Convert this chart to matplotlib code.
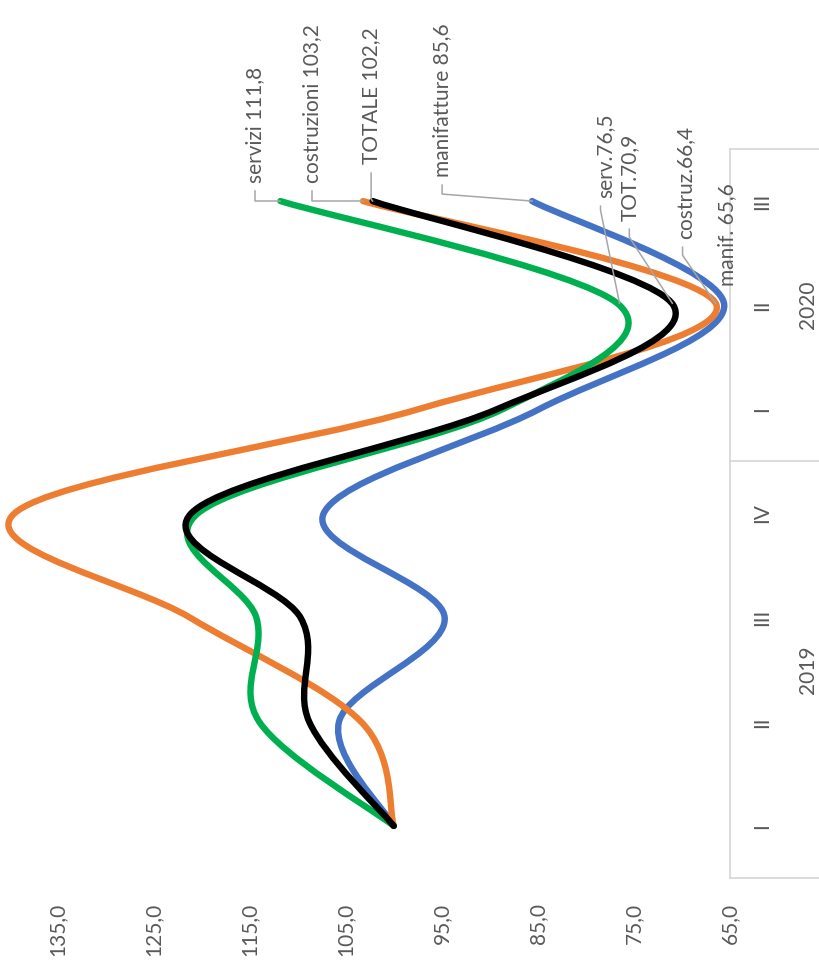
import matplotlib.pyplot as plt
import matplotlib.transforms as mtransforms
from matplotlib.path import Path
from matplotlib.patches import PathPatch
import numpy as np

plt.rcParams['font.family'] = ['Lato', 'DejaVu Sans']

# dati (indice I trim. 2019 = 100)
categories = ["I", "II", "III", "IV", "I", "II", "III"]
years = ["2019", "2020"]
year_centers = [1.5, 5.0]
manifatture = [100.0, 105.7, 94.7, 107.3, 84.9, 65.6, 85.6]
costruzioni = [100.0, 103.4, 121.2, 139.5, 97.5, 66.4, 103.2]
servizi = [100.0, 114.0, 114.3, 120.4, 88.7, 76.5, 111.8]
totale = [100.0, 108.8, 109.7, 121.1, 89.3, 70.9, 102.2]
value_ticks = [135, 125, 115, 105, 95, 85, 75, 65]

end_labels = ["manifatture 85,6", "costruzioni 103,2", "servizi 111,8", "TOTALE 102,2"]
low_labels = ["manif. 65,6", "costruz.66,4", "serv.76,5", "TOT.70,9"]

GREY = "#595959"
LEAD = "#a6a6a6"
FS = 15


def smooth_path(xs, ys):
    # curva di Bezier tipo "linea smussata" di Excel
    pts = np.column_stack([xs, ys])
    n = len(pts)
    verts = [pts[0]]
    codes = [Path.MOVETO]
    for i in range(n - 1):
        p0 = pts[i - 1] if i > 0 else pts[i]
        p1 = pts[i]
        p2 = pts[i + 1]
        p3 = pts[i + 2] if i + 2 < n else pts[i + 1]
        verts += [p1 + (p2 - p0) / 6, p2 - (p3 - p1) / 6, p2]
        codes += [Path.CURVE4] * 3
    return Path(verts, codes)


fig = plt.figure(figsize=(8.19, 9.72), dpi=100)
ax = fig.add_axes([57.5 / 819, 94 / 972, 672.5 / 819, 729 / 972])
ax.set_xlim(135, 65)
ax.set_ylim(-0.5, 6.5)

pos = np.arange(len(categories))
series = [(manifatture, "#4472C4"), (costruzioni, "#ED7D31"),
          (servizi, "#00B050"), (totale, "#000000")]
for z, (vals, col) in enumerate(series):
    patch = PathPatch(smooth_path(vals, pos), fill=False, edgecolor=col,
                      lw=4.6, capstyle="round", joinstyle="round",
                      clip_on=False, zorder=3 + z)
    ax.add_patch(patch)

# assi
for s in ["left", "top", "bottom"]:
    ax.spines[s].set_visible(False)
ax.spines["right"].set_color("#d9d9d9")
ax.spines["right"].set_linewidth(1.3)
ax.set_yticks([])
ax.set_xticks(value_ticks)
ax.set_xticklabels([f"{v},0" for v in value_ticks])
ax.tick_params(axis="x", length=0, pad=18, labelrotation=90,
               labelsize=FS, labelcolor=GREY)

# etichette categorie (a destra)
for i, c in enumerate(categories):
    ax.annotate(c, xy=(1, i), xycoords=("axes fraction", "data"),
                xytext=(32, 0), textcoords="offset pixels", rotation=90,
                ha="center", va="center", fontsize=FS, color=GREY)
for y, c in zip(years, year_centers):
    ax.annotate(y, xy=(1, c), xycoords=("axes fraction", "data"),
                xytext=(78, 0), textcoords="offset pixels", rotation=90,
                ha="center", va="center", fontsize=FS, color=GREY)
for b in [-0.5, 3.5, 6.5]:
    ax.plot([1, 1.14], [b, b], color="#d9d9d9", lw=1.3, clip_on=False,
            transform=mtransforms.blended_transform_factory(ax.transAxes, ax.transData))


def label(text, v, p, tdx, tdy, leader):
    ax.annotate(text, xy=(v, p), xytext=(tdx, tdy), textcoords="offset pixels",
                rotation=90, ha="center", va="bottom", fontsize=FS, color=GREY)
    if leader:
        trs = [mtransforms.offset_copy(ax.transData, fig, x=dx, y=dy, units="dots")
               for dx, dy in leader]
        disp = np.array([t.transform((v, p)) for t in trs])
        ax.plot(disp[:, 0], disp[:, 1], color=LEAD, lw=1.1, transform=None,
                clip_on=False, zorder=10)


fig.canvas.draw()
last = len(categories) - 1
# etichette finali (III 2020)
label(end_labels[2], servizi[-1], last, -25, 18, [(-25, 10), (-25, 0), (0, 0)])
label(end_labels[1], costruzioni[-1], last, -51, 18, [(-51, 10), (-51, 0), (0, 0)])
label(end_labels[3], totale[-1], last, -1.5, 37, [(-1.5, 28), (-1.5, 2), (0, 0)])
label(end_labels[0], manifatture[-1], last, -90, 24, [(-90, 16), (-90, 7), (0, 0)])
# etichette minimo (II 2020)
label(low_labels[2], servizi[5], 5, -14, 107, [(-19, 99), (-19, 95), (0, 2)])
label(low_labels[3], totale[5], 5, -43, 84, [(-44, 76), (-44, 68), (-1, 2)])
label(low_labels[1], costruzioni[5], 5, -31, 66, [(-34, 58), (-34, 50), (-1, 2)])
label(low_labels[0], manifatture[5], 5, 3, 19, None)

fig.savefig("out.png", dpi=100)
